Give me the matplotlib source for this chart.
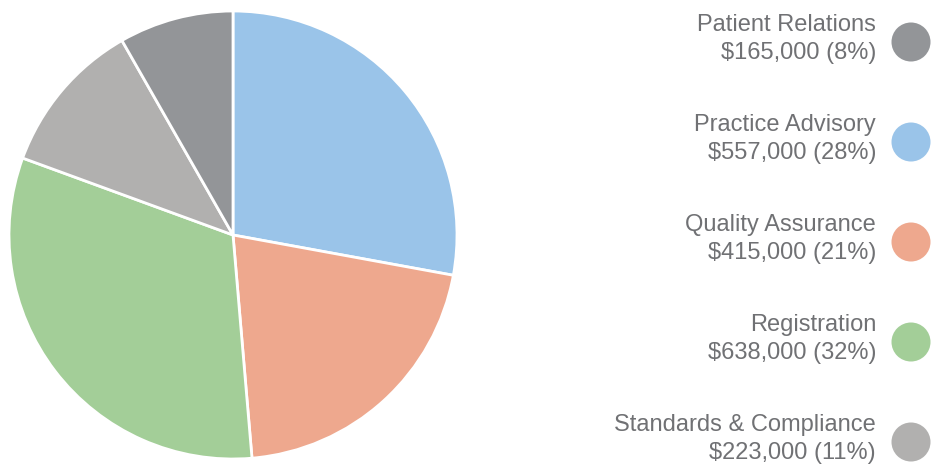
import matplotlib.pyplot as plt
from matplotlib.patches import Circle

# legend order
names = ['Patient Relations', 'Practice Advisory', 'Quality Assurance', 'Registration', 'Standards & Compliance']
amounts = [165000, 557000, 415000, 638000, 223000]
colors = ['#939598', '#9AC4E9', '#EEA88E', '#A3CE98', '#B1B0AF']

# pie drawn clockwise from the top in this order
pie_order = [1, 2, 3, 4, 0]

total = sum(amounts)
text_color = '#707174'

W, H = 931, 465
fig = plt.figure(figsize=(W / 100, H / 100), dpi=100)

ax = fig.add_axes([9 / W, 6 / H, 448 / W, 448 / H])
ax.pie([amounts[i] for i in pie_order],
       colors=[colors[i] for i in pie_order],
       startangle=90, counterclock=False, radius=1,
       wedgeprops={'edgecolor': 'white', 'linewidth': 2})
ax.set_xlim(-1, 1)
ax.set_ylim(-1, 1)
ax.set_aspect('equal')
ax.axis('off')

# legend in pixel coordinates
lax = fig.add_axes([0, 0, 1, 1])
lax.set_xlim(0, W)
lax.set_ylim(H, 0)
lax.axis('off')

for k, (name, amt, col) in enumerate(zip(names, amounts, colors)):
    yc = 42 + 100 * k
    pct = round(amt / total * 100)
    lax.text(876, yc - 17, name, ha='right', va='center', fontsize=17,
             color=text_color, family='Liberation Sans')
    lax.text(876, yc + 11, f'${amt:,} ({pct}%)', ha='right', va='center', fontsize=17,
             color=text_color, family='Liberation Sans')
    lax.add_patch(Circle((911, yc), 19.5, color=col, lw=0))

fig.savefig('out.png', dpi=100)
